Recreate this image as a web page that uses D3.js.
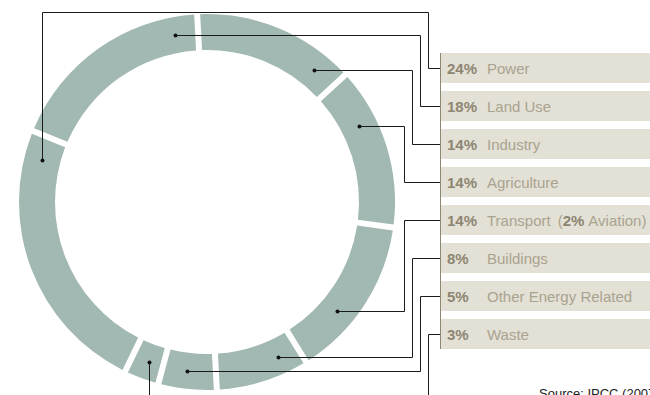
<!DOCTYPE html>
<html>
<head>
<meta charset="utf-8">
<script src="https://cdn.jsdelivr.net/npm/d3@7"></script>
<style>
  html, body { margin: 0; padding: 0; background: #fff; }
  svg { display: block; }
</style>
</head>
<body>
<svg id="chart" width="650" height="395"></svg>
<script>
// Greenhouse gas emissions by sector (IPCC 2007)
const categories = ["Power", "Land Use", "Industry", "Agriculture", "Transport", "Buildings", "Other Energy Related", "Waste"];
const shares = [24, 18, 14, 14, 14, 8, 5, 3];
const aviationShare = 2;          // part of Transport
const sourceNote = "Source: IPCC (2007)";

// Leader-line layout: where along each ring segment the dot sits (0..1),
// which column the elbow uses, and an optional detour row above/below the ring.
const anchorFraction = [0.91, 0.88, 0.83, 0.32, 0.64, 0.25, 0.55, 0.46];
const elbowX = [428, 420, 412, 404, 404, 412, 420, 428];
const detourY = [12, null, null, null, null, null, null, 401];

const W = 650, H = 395;
const cx = 207, cy = 202, rOuter = 188, rInner = 152, rDot = 170;
const deg = Math.PI / 180;

const svg = d3.select("#chart");

// Ring
const pie = d3.pie().sort(null).value(d => d)
  .startAngle(-154.2 * deg).endAngle((360 - 154.2) * deg);
const arcs = pie(shares);

const arc = d3.arc()
  .innerRadius(rInner).outerRadius(rOuter)
  .padRadius(rDot).padAngle(6 / rDot);

const ring = svg.append("g").attr("transform", `translate(${cx},${cy})`);
ring.selectAll("path")
  .data(arcs)
  .join("path")
  .attr("d", arc)
  .attr("fill", "#a2b8b3");

// Legend rows: 30px boxes on a 38px pitch
const rowScale = d3.scaleBand()
  .domain(categories)
  .range([53, 53 + 7 * 38 + 30])
  .paddingInner(8 / 38)
  .paddingOuter(0);
const boxX = 440;

const legend = svg.append("g");
legend.selectAll("rect")
  .data(categories)
  .join("rect")
  .attr("x", boxX)
  .attr("y", d => rowScale(d))
  .attr("width", W - boxX)
  .attr("height", rowScale.bandwidth())
  .attr("fill", "#e3e0d6");

const firstTop = rowScale(categories[0]);
const lastBottom = rowScale(categories[categories.length - 1]) + rowScale.bandwidth();
legend.append("line")
  .attr("x1", boxX + 0.5).attr("x2", boxX + 0.5)
  .attr("y1", firstTop).attr("y2", lastBottom)
  .attr("stroke", "#8e8873").attr("stroke-width", 1);

const rowMid = d => Math.round(rowScale(d) + rowScale.bandwidth() / 2);

const labels = legend.selectAll("text.row")
  .data(categories)
  .join("text")
  .attr("class", "row")
  .attr("y", d => rowMid(d) + 5.5)
  .attr("font-family", "'Liberation Sans', Arial, sans-serif")
  .attr("font-size", 15);

labels.append("tspan")
  .attr("x", 447)
  .attr("font-weight", "bold")
  .attr("fill", "#8d8672")
  .text((d, i) => shares[i] + "%");

labels.append("tspan")
  .attr("x", 487)
  .attr("fill", "#aaa38e")
  .text(d => d);

// Transport carries the aviation sub-share
const transportLabel = labels.filter(d => d === "Transport");
transportLabel.append("tspan").attr("dx", 7).attr("fill", "#aaa38e").text("(");
transportLabel.append("tspan").attr("font-weight", "bold").attr("fill", "#8d8672").text(aviationShare + "%");
transportLabel.append("tspan").attr("dx", 4).attr("fill", "#aaa38e").text("Aviation)");

// Leader lines from each ring segment to its legend row
const leaders = svg.append("g");
arcs.forEach((a, i) => {
  const ang = a.startAngle + (a.endAngle - a.startAngle) * anchorFraction[i];
  const px = Math.round(cx + rDot * Math.sin(ang)) + 0.5;
  const py = Math.round(cy - rDot * Math.cos(ang)) + 0.5;
  const ex = elbowX[i] + 0.5;
  const ry = rowMid(categories[i]) + 0.5;
  const pts = [[px, py]];
  if (detourY[i] !== null) {
    const dy = detourY[i] + 0.5;
    pts.push([px, dy], [ex, dy]);
  } else {
    pts.push([ex, py]);
  }
  pts.push([ex, ry], [boxX, ry]);

  leaders.append("path")
    .attr("d", d3.line()(pts))
    .attr("fill", "none")
    .attr("stroke", "#1a1a1a")
    .attr("stroke-width", 1);
  leaders.append("circle")
    .attr("cx", px).attr("cy", py).attr("r", 2)
    .attr("fill", "#111");
});

// Source
svg.append("text")
  .attr("x", 539)
  .attr("y", 398)
  .attr("font-family", "'Liberation Sans Narrow', 'Arial Narrow', 'Liberation Sans', sans-serif")
  .attr("font-size", 13)
  .attr("fill", "#222")
  .text(sourceNote);
</script>
</body>
</html>
